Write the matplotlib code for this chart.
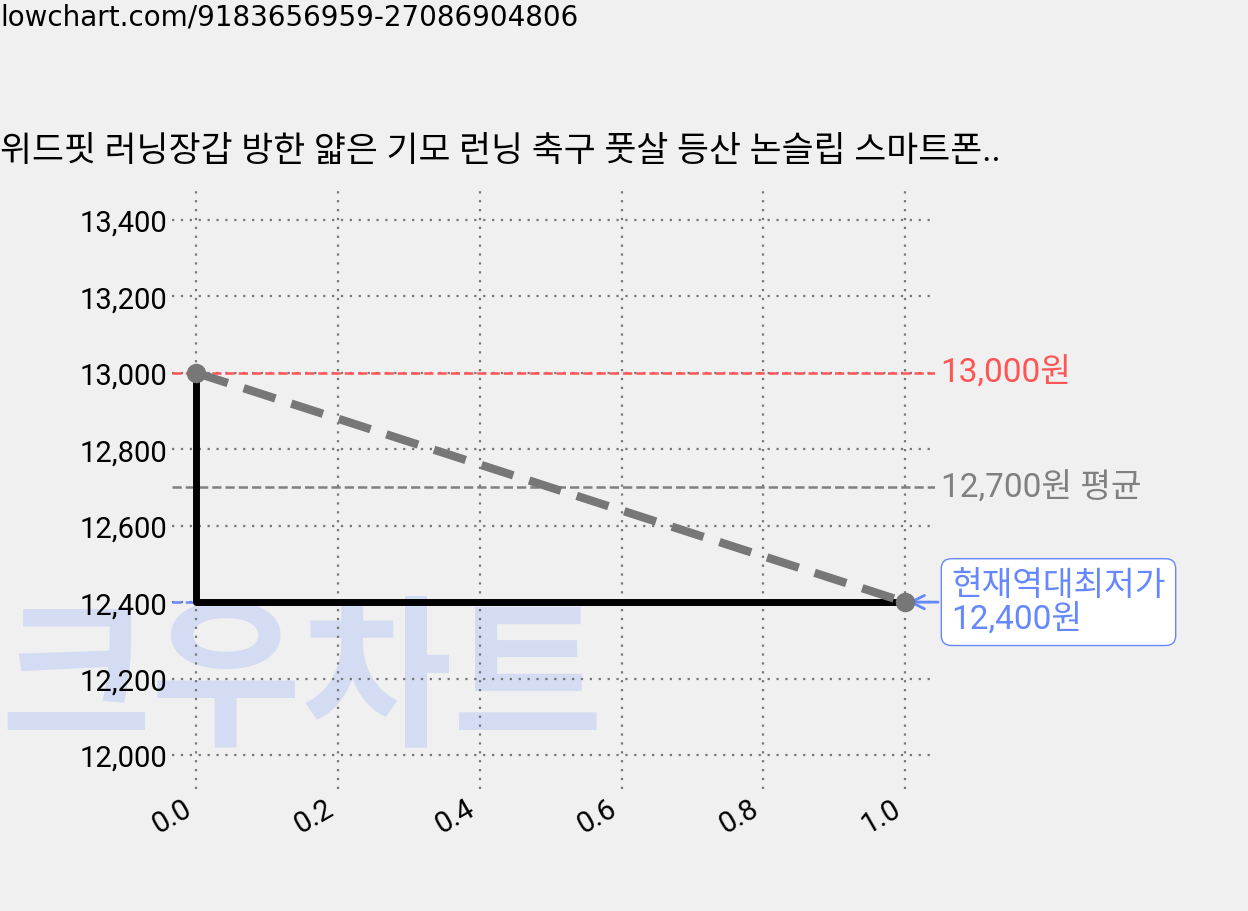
import matplotlib
matplotlib.use("Agg")
import matplotlib.pyplot as plt

plt.rcParams['font.family'] = ['Roboto', 'Noto Sans CJK KR', 'DejaVu Sans']

x_vals = [0.0, 1.0]
prices = [13000, 12400]
avg_price = 12700
max_price = 13000
min_price = 12400
title = "위드핏 러닝장갑 방한 얇은 기모 런닝 축구 풋살 등산 논슬립 스마트폰.."
yticks = [12000, 12200, 12400, 12600, 12800, 13000, 13200, 13400]
xticks = [0.0, 0.2, 0.4, 0.6, 0.8, 1.0]

fig = plt.figure(figsize=(12.48, 9.12), dpi=100, facecolor='#f0f0f0')
ax = fig.add_axes([172/1248, 1-790/912, (935-172)/1248, 600/912])
ax.set_facecolor('#f0f0f0')
ax.set_xlim(-0.034, 1.042)
ax.set_ylim(11911, 13481)

fig.text(0.0, 1-18/912, "lowchart.com/9183656959-27086904806", fontsize=20,
         va='center', family='DejaVu Sans')
fig.text(0.0, 1-152/912, title, fontsize=25, va='center')
ax.text(0.0, 1-688/912, "크우차트", fontsize=118, fontweight='heavy', color='#d3dcf2',
        va='center', ha='left', zorder=0, transform=fig.transFigure, clip_on=False)

ax.grid(True, linestyle=(0, (1, 3)), color='#777777', linewidth=1.6)
for s in ax.spines.values():
    s.set_visible(False)
ax.tick_params(length=0, labelsize=21)
ax.set_yticks(yticks)
ax.set_yticklabels([f"{v:,}" for v in yticks])
ax.set_xticks(xticks)
ax.set_xticklabels([f"{v:.1f}" for v in xticks], rotation=30, ha='right')

ax.axhline(max_price, color='#ff5555', linestyle='--', linewidth=1.8)
ax.axhline(avg_price, color='#808080', linestyle='--', linewidth=1.8)
ax.plot([-0.034, 0], [min_price, min_price], color='#6688ff', linestyle='--', linewidth=1.8)

ax.plot([x_vals[0], x_vals[0], x_vals[1]], [prices[0], prices[1], prices[1]],
        color='black', linewidth=5, zorder=3)
ax.plot(x_vals, prices, color='#777777', linestyle='--', linewidth=6, dashes=(4, 2), zorder=4)
ax.plot(x_vals, prices, 'o', color='#777777', markersize=13, zorder=5)

ax.text(1.05, max_price, f"{max_price:,}원", color='#ff5555', fontsize=24, va='center', clip_on=False)
ax.text(1.05, avg_price, f"{avg_price:,}원 평균", color='#808080', fontsize=24, va='center', clip_on=False)
ax.annotate(f"현재역대최저가\n{min_price:,}원", xy=(1.0, min_price), xytext=(1.065, min_price),
            color='#6688ff', fontsize=24, va='center', linespacing=1.1,
            bbox=dict(boxstyle='round,pad=0.3', fc='white', ec='#6688ff'),
            arrowprops=dict(arrowstyle='->', color='#6688ff', lw=2), annotation_clip=False)

fig.savefig("out.png", dpi=100, facecolor=fig.get_facecolor())
